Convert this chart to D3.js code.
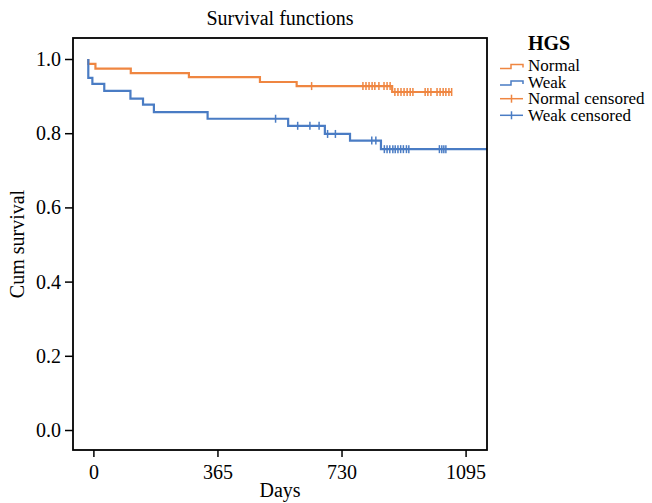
<!DOCTYPE html>
<html>
<head>
<meta charset="utf-8">
<script src="https://cdn.jsdelivr.net/npm/d3@7"></script>
<style>
body { margin: 0; background: #fff; }
text { font-family: "Liberation Serif", "Times New Roman", serif; fill: #000; }
</style>
</head>
<body>
<div id="main-vis"></div>
<script>
// step data (days, cumulative survival)
var normalTimes = [-15, 6, 110, 281, 490, 598, 879];
var normalSurv = [0.987, 0.974, 0.962, 0.951, 0.938, 0.927, 0.911];
var normalEnd = 1054;
var normalCensored = [642, 793, 802, 811, 820, 828, 840, 855, 864, 873,
  887, 896, 905, 914, 923, 932, 940, 976, 984, 993, 1011, 1020, 1029, 1037, 1046, 1054];

var weakTimes = [-15, -3, 32, 109, 146, 178, 336, 573, 681, 755, 846];
var weakSurv = [0.949, 0.933, 0.914, 0.893, 0.877, 0.857, 0.839, 0.820, 0.798, 0.780, 0.757];
var weakEnd = 1158;
var weakCensored = [536, 601, 637, 664, 689, 712, 819, 831, 856, 864, 872, 881,
  888, 896, 904, 912, 921, 928, 1018, 1025, 1031, 1037];

var xTicks = [0, 365, 730, 1095];
var yTicks = [0, 0.2, 0.4, 0.6, 0.8, 1.0];
var groups = ["Normal", "Weak"];
var colors = ["#ef8641", "#4a7cc4"];

var width = 652, height = 503;
var margin = {top: 38, right: 165, bottom: 53, left: 73};

var svg = d3.select("#main-vis").append("svg")
  .attr("width", width)
  .attr("height", height);

var x = d3.scaleLinear().domain([-60, 1158]).range([margin.left, width - margin.right]);
var y = d3.scaleLinear().domain([-0.0539, 1.0566]).range([height - margin.bottom, margin.top]);

function survAt(times, surv, t) {
  var s = 1;
  for (var i = 0; i < times.length; i++) {
    if (times[i] <= t) s = surv[i];
  }
  return s;
}

function stepPoints(times, surv, end) {
  var pts = [[times[0], 1]];
  times.forEach(function (t, i) { pts.push([t, surv[i]]); });
  pts.push([end, surv[surv.length - 1]]);
  return pts;
}

var line = d3.line()
  .curve(d3.curveStepAfter)
  .x(function (d) { return x(d[0]); })
  .y(function (d) { return y(d[1]); });

var series = [
  {times: normalTimes, surv: normalSurv, end: normalEnd, cens: normalCensored, color: colors[0]},
  {times: weakTimes, surv: weakSurv, end: weakEnd, cens: weakCensored, color: colors[1]}
];

series.forEach(function (s) {
  svg.append("path")
    .attr("d", line(stepPoints(s.times, s.surv, s.end)))
    .attr("fill", "none")
    .attr("stroke", s.color)
    .attr("stroke-width", 2.2);
});

series.forEach(function (s) {
  svg.append("g").selectAll("line")
    .data(s.cens)
    .enter().append("line")
    .attr("x1", function (d) { return x(d); })
    .attr("x2", function (d) { return x(d); })
    .attr("y1", function (d) { return y(survAt(s.times, s.surv, d)) - 4; })
    .attr("y2", function (d) { return y(survAt(s.times, s.surv, d)) + 4; })
    .attr("stroke", s.color)
    .attr("stroke-width", 1.5);
});

// axes
var xAxis = svg.append("g")
  .attr("transform", "translate(0," + (height - margin.bottom) + ")")
  .call(d3.axisBottom(x).tickValues(xTicks).tickSize(7).tickPadding(8).tickSizeOuter(0)
    .tickFormat(d3.format("d")));
var yAxis = svg.append("g")
  .attr("transform", "translate(" + margin.left + ",0)")
  .call(d3.axisLeft(y).tickValues(yTicks).tickSize(8).tickPadding(4).tickSizeOuter(0)
    .tickFormat(d3.format(".1f")));
[xAxis, yAxis].forEach(function (a) {
  a.select(".domain").remove();
  a.selectAll(".tick line").attr("stroke", "#000").attr("stroke-width", 1.5);
  a.selectAll(".tick text").style("font-size", "20px").attr("font-family", null);
});

// frame
svg.append("rect")
  .attr("x", margin.left)
  .attr("y", margin.top)
  .attr("width", width - margin.left - margin.right)
  .attr("height", height - margin.top - margin.bottom)
  .attr("fill", "none")
  .attr("stroke", "#000")
  .attr("stroke-width", 1.8);

// titles
svg.append("text")
  .attr("x", (margin.left + width - margin.right) / 2)
  .attr("y", 25)
  .attr("text-anchor", "middle")
  .style("font-size", "20px")
  .text("Survival functions");
svg.append("text")
  .attr("x", (margin.left + width - margin.right) / 2)
  .attr("y", 497)
  .attr("text-anchor", "middle")
  .style("font-size", "20px")
  .text("Days");
svg.append("text")
  .attr("transform", "translate(24," + ((margin.top + height - margin.bottom) / 2) + ") rotate(-90)")
  .attr("text-anchor", "middle")
  .style("font-size", "20px")
  .text("Cum survival");

// legend
var legend = svg.append("g");
legend.append("text")
  .attr("x", 528)
  .attr("y", 50)
  .style("font-size", "20px")
  .style("font-weight", "bold")
  .text("HGS");
var items = [
  {label: "Normal", color: colors[0], kind: "step"},
  {label: "Weak", color: colors[1], kind: "step"},
  {label: "Normal censored", color: colors[0], kind: "cens"},
  {label: "Weak censored", color: colors[1], kind: "cens"}
];
items.forEach(function (d, i) {
  var cy = 65.5 + i * 16.6;
  if (d.kind === "step") {
    legend.append("path")
      .attr("d", "M500," + (cy + 3) + "H511V" + (cy - 1) + "H523V" + (cy + 2))
      .attr("fill", "none")
      .attr("stroke", d.color)
      .attr("stroke-width", 1.5);
  } else {
    legend.append("line")
      .attr("x1", 500).attr("x2", 523).attr("y1", cy).attr("y2", cy)
      .attr("stroke", d.color).attr("stroke-width", 1.5);
    legend.append("line")
      .attr("x1", 511.5).attr("x2", 511.5).attr("y1", cy - 4).attr("y2", cy + 4)
      .attr("stroke", d.color).attr("stroke-width", 1.5);
  }
  legend.append("text")
    .attr("x", 528)
    .attr("y", cy + 5.5)
    .style("font-size", "17px")
    .text(d.label);
});
</script>
</body>
</html>
